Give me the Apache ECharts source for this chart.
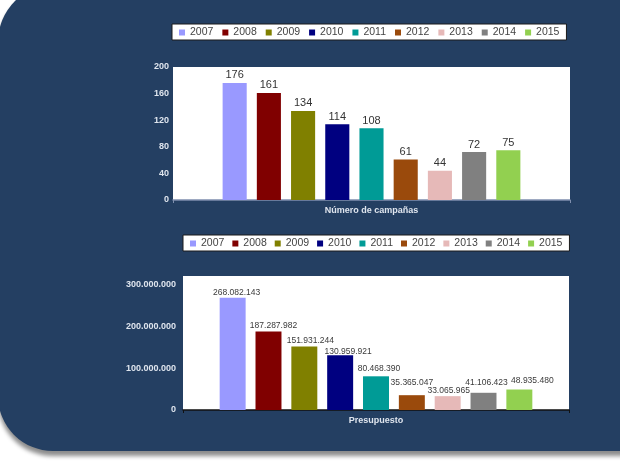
<!DOCTYPE html>
<html>
<head>
<meta charset="utf-8">
<script src="https://cdn.jsdelivr.net/npm/echarts@6/dist/echarts.min.js"></script>
<style>
  html, body { margin: 0; padding: 0; background: #fff; }
  #bg {
    position: absolute; left: -2px; top: -16px; width: 640px; height: 467px;
    background: #243f62; border-radius: 58px 0 0 55px;
    box-shadow: 0 5px 4px rgba(0,0,0,0.45);
  }
  #chart { position: absolute; left: 0; top: 0; width: 620px; height: 465px; }
</style>
</head>
<body>
<div id="bg"></div>
<div id="chart"></div>
<script>
// datos
var years = ['2007', '2008', '2009', '2010', '2011', '2012', '2013', '2014', '2015'];
var campaigns = [176, 161, 134, 114, 108, 61, 44, 72, 75];
var budget = [268082143, 187287982, 151931244, 130959921, 80468390, 35365047, 33065965, 41106423, 48935480];
var cat1 = ['Número de campañas'];
var cat2 = ['Presupuesto'];
var colors = ['#9999ff', '#800000', '#808000', '#000080', '#009b96', '#9a4a0c', '#e6b9b8', '#808080', '#92d050'];
// desplazamiento de etiquetas (Excel las recoloca)
var labelShift2 = [[4, 0], [5, 0], [6, 0], [8, 2], [3, -2], [0, -7], [1, 0], [3, -5], [13, -3]];

function fmtDots(v) {
  return String(v).replace(/\B(?=(\d{3})+(?!\d))/g, '.');
}

var myChart = echarts.init(document.getElementById('chart'));

var series = [];
years.forEach(function (y, i) {
  series.push({
    name: y, type: 'bar', xAxisIndex: 0, yAxisIndex: 0,
    data: [campaigns[i]],
    itemStyle: { color: colors[i] },
    barCategoryGap: '25%', barGap: '42%',
    label: { show: true, position: 'top', distance: 2, color: '#333', fontSize: 11, fontFamily: 'Liberation Sans' }
  });
});
years.forEach(function (y, i) {
  series.push({
    name: y, type: 'bar', xAxisIndex: 1, yAxisIndex: 1,
    data: [budget[i]],
    itemStyle: { color: colors[i] },
    barCategoryGap: '19%', barGap: '38%',
    label: {
      show: true, position: 'top', distance: 1, color: '#3a3a3a', fontSize: 8.5,
      fontFamily: 'Liberation Sans',
      offset: labelShift2[i],
      formatter: function (p) { return fmtDots(p.value); }
    }
  });
});

var legendBase = {
  data: years,
  icon: 'rect',
  itemWidth: 6, itemHeight: 6, itemGap: 9,
  padding: [3, 7, 2, 7],
  backgroundColor: '#fff',
  borderColor: '#1a1a1a', borderWidth: 1,
  textStyle: { color: '#444', fontSize: 10.5, fontFamily: 'Liberation Sans' }
};

var option = {
  animation: false,
  color: colors,
  legend: [
    Object.assign({}, legendBase, { left: 172, top: 24 }),
    Object.assign({}, legendBase, { left: 183, top: 235, itemGap: 8 })
  ],
  grid: [
    { left: 173, right: 50, top: 67, bottom: 265, show: true, backgroundColor: '#fff', borderWidth: 0 },
    { left: 183, right: 51, top: 276, bottom: 55, show: true, backgroundColor: '#fff', borderWidth: 0 }
  ],
  xAxis: [
    {
      type: 'category', gridIndex: 0, data: cat1,
      axisLine: { lineStyle: { color: '#7f8fae', width: 1.5 } },
      axisTick: { show: true, length: 3, lineStyle: { color: '#7f8fae' } },
      axisLabel: { color: '#dfe5ee', fontWeight: 'bold', fontSize: 9, margin: 6, fontFamily: 'Liberation Sans' }
    },
    {
      type: 'category', gridIndex: 1, data: cat2,
      axisLine: { lineStyle: { color: '#111', width: 1.5 } },
      axisTick: { show: true, length: 3, lineStyle: { color: '#111' } },
      axisLabel: { color: '#dfe5ee', fontWeight: 'bold', fontSize: 9, margin: 6, fontFamily: 'Liberation Sans' }
    }
  ],
  yAxis: [
    {
      type: 'value', gridIndex: 0, min: 0, max: 200, interval: 40,
      splitLine: { show: false },
      axisLine: { show: false }, axisTick: { show: false },
      axisLabel: { color: '#dfe5ee', fontWeight: 'bold', fontSize: 9, margin: 4, fontFamily: 'Liberation Sans' }
    },
    {
      type: 'value', gridIndex: 1, min: 0, max: 320000000, interval: 100000000,
      splitLine: { show: false },
      axisLine: { show: false }, axisTick: { show: false },
      axisLabel: {
        color: '#dfe5ee', fontWeight: 'bold', fontSize: 9, margin: 7, fontFamily: 'Liberation Sans',
        formatter: function (v) { return v % 100000000 === 0 ? fmtDots(v) : ''; }
      }
    }
  ],
  series: series
};

myChart.setOption(option, true);
</script>
</body>
</html>
